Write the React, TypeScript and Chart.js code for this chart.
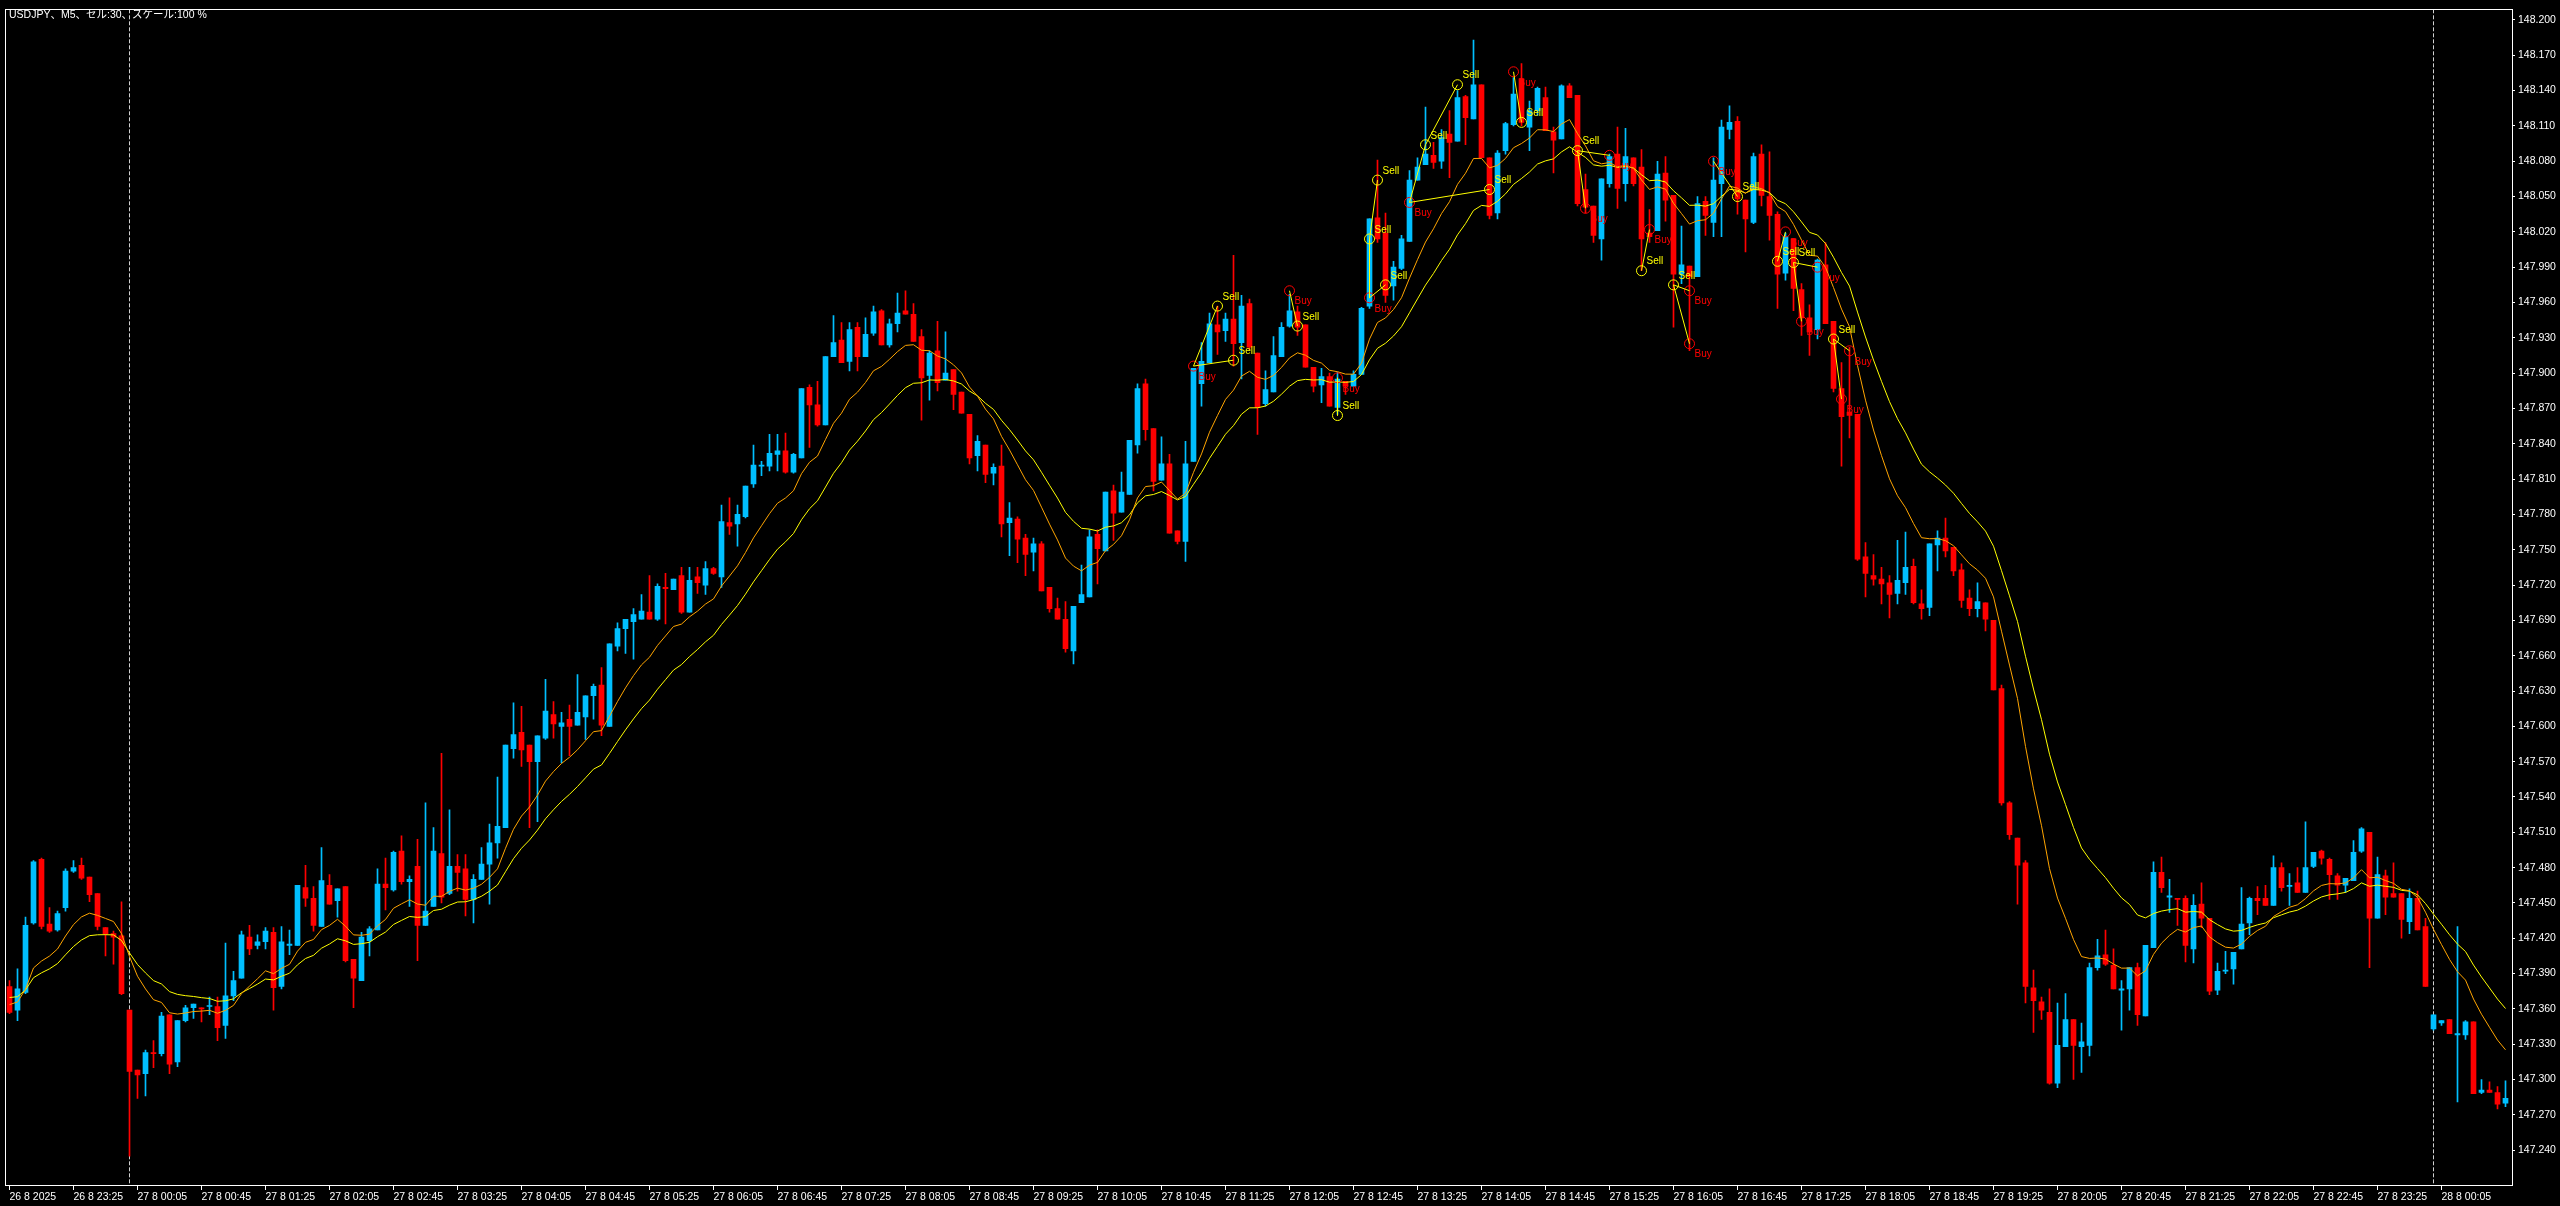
import { useEffect, useRef } from 'react';
import { Chart, registerables } from 'chart.js';

Chart.register(...registerables);

// ---- Data (USDJPY M5, one candle per 5 minutes, first candle 26 8 22:45) ----
const candleOpen: number[] = [
  147.379,147.359,147.374,147.433,147.487,147.432,147.427,147.446,147.477,147.482,
  147.472,147.458,147.429,147.424,147.422,147.359,147.308,147.305,147.323,147.322,
  147.355,147.315,147.350,147.361,147.361,147.362,147.362,147.346,147.371,147.386,
  147.421,147.414,147.417,147.425,147.379,147.414,147.414,147.463,147.454,147.430,
  147.465,147.452,147.464,147.402,147.384,147.418,147.427,147.466,147.461,147.494,
  147.468,147.481,147.431,147.447,147.492,147.458,147.481,147.479,147.453,147.470,
  147.483,147.501,147.514,147.581,147.595,147.584,147.570,147.590,147.610,147.600,
  147.606,147.601,147.608,147.626,147.635,147.600,147.668,147.683,147.689,147.691,
  147.697,147.691,147.718,147.716,147.728,147.697,147.727,147.720,147.734,147.727,
  147.773,147.772,147.778,147.806,147.821,147.821,147.831,147.834,147.816,147.828,
  147.888,147.873,147.856,147.914,147.928,147.910,147.939,147.914,147.934,147.953,
  147.924,147.942,147.953,147.950,147.931,147.898,147.919,147.894,147.903,147.884,
  147.865,147.830,147.839,147.815,147.821,147.773,147.776,147.760,147.748,147.755,
  147.718,147.700,147.691,147.664,147.705,147.710,147.763,147.749,147.800,147.782,
  147.797,147.839,147.891,147.853,147.809,147.823,147.766,147.757,147.825,147.891,
  147.909,147.941,147.936,147.946,147.926,147.959,147.917,147.874,147.884,147.914,
  147.940,147.952,147.941,147.905,147.890,147.897,147.871,147.893,147.889,147.899,
  147.957,148.032,148.019,147.974,147.989,148.012,148.064,148.077,148.085,148.080,
  148.103,148.097,148.135,148.116,148.145,148.083,148.036,148.089,148.111,148.150,
  148.109,148.123,148.134,148.105,148.099,148.144,148.136,148.056,148.042,148.014,
  148.061,148.086,148.061,148.083,148.075,148.019,148.021,148.070,148.051,147.984,
  147.991,147.982,148.046,148.028,148.061,148.107,148.114,148.047,148.028,148.086,
  148.050,148.035,147.985,148.014,147.971,147.947,147.937,147.992,147.944,147.887,
  147.867,147.865,147.744,147.728,147.725,147.722,147.713,147.722,147.736,147.704,
  147.701,147.754,147.760,147.752,147.733,147.709,147.700,147.705,147.690,147.632,
  147.535,147.505,147.484,147.378,147.366,147.357,147.297,147.328,147.351,147.328,
  147.329,147.395,147.406,147.397,147.376,147.377,147.395,147.354,147.412,147.476,
  147.455,147.454,147.454,147.411,147.449,147.437,147.376,147.392,147.394,147.411,
  147.433,147.454,147.454,147.448,147.480,147.464,147.467,147.459,147.481,147.494,
  147.487,147.473,147.465,147.469,147.494,147.510,147.437,147.473,147.458,147.458,
  147.434,147.454,147.430,147.343,147.348,147.351,147.338,147.338,147.349,147.289,
  147.291,147.289,147.280,
];

const candleHigh: number[] = [
  147.384,147.394,147.438,147.486,147.488,147.446,147.443,147.479,147.486,147.488,
  147.472,147.458,147.429,147.426,147.451,147.359,147.308,147.325,147.333,147.357,
  147.355,147.350,147.363,147.364,147.361,147.370,147.370,147.416,147.392,147.426,
  147.431,147.423,147.429,147.429,147.430,147.427,147.465,147.482,147.464,147.497,
  147.474,147.462,147.464,147.402,147.425,147.430,147.479,147.488,147.494,147.507,
  147.473,147.504,147.535,147.514,147.577,147.529,147.491,147.491,147.474,147.497,
  147.517,147.557,147.584,147.620,147.617,147.584,147.592,147.640,147.621,147.612,
  147.618,147.644,147.626,147.636,147.650,147.670,147.688,147.691,147.700,147.712,
  147.728,147.721,147.730,147.725,147.735,147.735,147.735,147.740,147.735,147.788,
  147.794,147.788,147.804,147.839,147.825,147.848,147.848,147.849,147.832,147.887,
  147.890,147.893,147.914,147.949,147.943,147.943,147.943,147.947,147.957,147.954,
  147.946,147.968,147.970,147.959,147.937,147.919,147.944,147.935,147.903,147.884,
  147.865,147.847,147.839,147.823,147.839,147.790,147.778,147.763,147.760,147.757,
  147.718,147.709,147.706,147.702,147.737,147.767,147.767,147.799,147.805,147.816,
  147.843,147.891,147.895,147.853,147.846,147.831,147.766,147.842,147.904,147.926,
  147.951,147.957,147.951,148.000,147.966,147.963,147.917,147.902,147.931,147.943,
  147.967,147.957,147.941,147.905,147.904,147.900,147.901,147.893,147.902,147.956,
  148.031,148.081,148.036,147.995,148.017,148.072,148.083,148.126,148.096,148.107,
  148.123,148.140,148.136,148.183,148.145,148.083,148.089,148.113,148.151,148.163,
  148.131,148.143,148.143,148.109,148.145,148.146,148.136,148.069,148.042,148.065,
  148.086,148.109,148.108,148.083,148.090,148.039,148.080,148.084,148.051,148.025,
  147.991,148.050,148.050,148.083,148.115,148.127,148.118,148.047,148.087,148.094,
  148.088,148.037,148.019,148.014,147.976,147.958,147.997,148.011,147.944,147.909,
  147.922,147.865,147.756,147.746,147.735,147.728,147.758,147.765,147.742,147.716,
  147.755,147.766,147.777,147.752,147.738,147.716,147.722,147.705,147.690,147.635,
  147.536,147.505,147.486,147.393,147.370,147.377,147.365,147.373,147.351,147.348,
  147.399,147.419,147.427,147.411,147.384,147.395,147.399,147.414,147.485,147.489,
  147.470,147.454,147.456,147.457,147.467,147.437,147.399,147.409,147.408,147.463,
  147.455,147.464,147.465,147.490,147.484,147.475,147.480,147.519,147.493,147.495,
  147.488,147.475,147.471,147.503,147.514,147.510,147.489,147.478,147.484,147.458,
  147.462,147.460,147.437,147.355,147.350,147.351,147.430,147.350,147.349,147.300,
  147.298,147.294,147.299,
];

const candleLow: number[] = [
  147.356,147.350,147.373,147.432,147.428,147.425,147.426,147.443,147.476,147.470,
  147.451,147.427,147.405,147.398,147.372,147.235,147.284,147.286,147.310,147.320,
  147.305,147.311,147.349,147.352,147.349,147.355,147.333,147.335,147.367,147.386,
  147.406,147.411,147.411,147.359,147.377,147.406,147.414,147.447,147.426,147.430,
  147.449,147.438,147.400,147.361,147.384,147.405,147.427,147.444,147.460,147.466,
  147.447,147.401,147.431,147.447,147.450,147.457,147.460,147.439,147.433,147.470,
  147.449,147.488,147.514,147.573,147.566,147.514,147.519,147.589,147.590,147.569,
  147.575,147.601,147.589,147.606,147.592,147.600,147.664,147.662,147.657,147.691,
  147.691,147.690,147.687,147.716,147.696,147.697,147.713,147.712,147.729,147.718,
  147.763,147.753,147.777,147.803,147.813,147.817,147.817,147.815,147.815,147.828,
  147.837,147.855,147.856,147.914,147.909,147.902,147.902,147.914,147.932,147.924,
  147.922,147.935,147.950,147.927,147.860,147.877,147.885,147.894,147.869,147.866,
  147.823,147.817,147.807,147.805,147.761,147.745,147.739,147.728,147.732,147.715,
  147.697,147.691,147.663,147.653,147.705,147.710,147.721,147.749,147.758,147.782,
  147.797,147.832,147.843,147.800,147.809,147.764,147.755,147.740,147.825,147.872,
  147.909,147.916,147.927,147.906,147.895,147.920,147.848,147.872,147.884,147.914,
  147.939,147.932,147.905,147.884,147.875,147.872,147.865,147.882,147.889,147.899,
  147.955,148.011,147.960,147.962,147.988,148.012,148.064,148.077,148.074,148.074,
  148.066,148.097,148.094,148.116,148.083,148.031,148.031,148.086,148.110,148.110,
  148.089,148.119,148.106,148.070,148.099,148.134,148.042,148.036,148.011,147.996,
  148.058,148.040,148.046,148.059,147.987,148.011,148.021,148.029,147.939,147.976,
  147.919,147.982,148.017,148.016,148.016,148.099,148.035,148.003,148.027,148.042,
  148.013,147.955,147.979,147.953,147.932,147.915,147.929,147.942,147.884,147.821,
  147.845,147.741,147.710,147.720,147.704,147.692,147.704,147.712,147.704,147.691,
  147.694,147.732,147.744,147.728,147.701,147.694,147.693,147.681,147.631,147.533,
  147.504,147.449,147.365,147.340,147.351,147.296,147.293,147.328,147.300,147.306,
  147.320,147.393,147.397,147.377,147.342,147.359,147.346,147.354,147.412,147.459,
  147.442,147.431,147.400,147.399,147.429,147.372,147.372,147.390,147.381,147.411,
  147.423,147.440,147.448,147.448,147.460,147.448,147.459,147.459,147.480,147.483,
  147.453,147.453,147.459,147.469,147.493,147.395,147.437,147.440,147.455,147.420,
  147.424,147.427,147.379,147.342,147.346,147.339,147.281,147.334,147.288,147.288,
  147.289,147.275,147.277,
];

const candleClose: number[] = [
  147.357,147.377,147.431,147.485,147.430,147.426,147.441,147.477,147.480,147.471,
  147.457,147.430,147.424,147.421,147.373,147.307,147.304,147.323,147.322,147.354,
  147.313,147.350,147.361,147.364,147.360,147.362,147.344,147.371,147.384,147.423,
  147.411,147.417,147.426,147.378,147.417,147.415,147.465,147.454,147.431,147.469,
  147.449,147.462,147.401,147.386,147.421,147.428,147.466,147.463,147.493,147.468,
  147.470,147.431,147.443,147.494,147.455,147.481,147.476,147.453,147.470,147.483,
  147.501,147.515,147.584,147.593,147.580,147.570,147.592,147.613,147.602,147.603,
  147.600,147.612,147.626,147.634,147.601,147.670,147.683,147.691,147.695,147.698,
  147.691,147.719,147.717,147.725,147.697,147.724,147.722,147.734,147.730,147.774,
  147.770,147.780,147.804,147.822,147.822,147.832,147.834,147.816,147.831,147.887,
  147.873,147.856,147.914,147.926,147.909,147.937,147.914,147.933,147.952,147.924,
  147.942,147.951,147.950,147.927,147.896,147.917,147.892,147.900,147.882,147.866,
  147.828,147.842,147.814,147.820,147.772,147.777,147.759,147.746,147.755,147.715,
  147.700,147.691,147.666,147.702,147.712,147.761,147.751,147.799,147.781,147.799,
  147.843,147.887,147.852,147.808,147.823,147.764,147.757,147.823,147.904,147.910,
  147.942,147.935,147.946,147.925,147.957,147.922,147.871,147.886,147.915,147.939,
  147.953,147.939,147.905,147.889,147.897,147.872,147.895,147.889,147.899,147.955,
  148.031,148.014,147.966,147.990,148.014,148.064,148.075,148.086,148.079,148.100,
  148.096,148.134,148.117,148.145,148.083,148.034,148.087,148.112,148.137,148.113,
  148.123,148.142,148.106,148.098,148.144,148.134,148.044,148.041,148.017,148.065,
  148.084,148.057,148.084,148.061,148.014,148.016,148.069,148.047,147.984,147.992,
  147.982,148.044,148.034,148.064,148.109,148.113,148.048,148.031,148.084,148.051,
  148.034,147.984,148.016,147.972,147.947,147.935,147.996,147.942,147.887,147.863,
  147.864,147.742,147.730,147.725,147.721,147.712,147.724,147.735,147.705,147.700,
  147.755,147.760,147.749,147.732,147.707,147.700,147.706,147.691,147.631,147.535,
  147.508,147.482,147.379,147.367,147.359,147.297,147.329,147.351,147.329,147.332,
  147.395,147.405,147.398,147.377,147.377,147.395,147.355,147.414,147.476,147.463,
  147.456,147.453,147.414,147.448,147.437,147.375,147.392,147.393,147.408,147.432,
  147.454,147.452,147.448,147.480,147.463,147.465,147.459,147.480,147.493,147.488,
  147.474,147.465,147.471,147.493,147.513,147.437,147.474,147.455,147.455,147.436,
  147.454,147.427,147.379,147.355,147.350,147.339,147.339,147.349,147.288,147.291,
  147.289,147.279,147.284,
];

// Moving-average indicator settings (orange = fast EMA, yellow = slow EMA)
const fastPeriod = 11;
const slowPeriod = 20;
const fastSeed = 147.365; // indicator value just before the first visible bar
const slowSeed = 147.371;

// Time-axis labels (one every 8 bars = 40 minutes)
const timeLabels: string[] = [
  '26 8 2025', '26 8 23:25', '27 8 00:05', '27 8 00:45', '27 8 01:25', '27 8 02:05',
  '27 8 02:45', '27 8 03:25', '27 8 04:05', '27 8 04:45', '27 8 05:25', '27 8 06:05',
  '27 8 06:45', '27 8 07:25', '27 8 08:05', '27 8 08:45', '27 8 09:25', '27 8 10:05',
  '27 8 10:45', '27 8 11:25', '27 8 12:05', '27 8 12:45', '27 8 13:25', '27 8 14:05',
  '27 8 14:45', '27 8 15:25', '27 8 16:05', '27 8 16:45', '27 8 17:25', '27 8 18:05',
  '27 8 18:45', '27 8 19:25', '27 8 20:05', '27 8 20:45', '27 8 21:25', '27 8 22:05',
  '27 8 22:45', '27 8 23:25', '28 8 00:05',
];
const barsPerLabel = 8;

// Price-axis tick labels
const priceTicks: number[] = [
  148.2, 148.17, 148.14, 148.11, 148.08, 148.05, 148.02, 147.99, 147.96, 147.93, 147.9,
  147.87, 147.84, 147.81, 147.78, 147.75, 147.72, 147.69, 147.66, 147.63, 147.6, 147.57,
  147.54, 147.51, 147.48, 147.45, 147.42, 147.39, 147.36, 147.33, 147.3, 147.27, 147.24,
];

// Day separators (bar index of 00:00)
const daySeparators: number[] = [15, 303];

// Trade signals
const signalBar: number[] = [
  148, 151, 153, 160, 161, 166, 166, 170, 170, 171, 172, 175, 177, 181, 185, 188, 189,
  196, 197, 200, 204, 205, 208, 210, 210, 213, 216, 221, 222, 223, 224, 226, 228, 229, 230,
];
const signalPrice: number[] = [
  147.906, 147.957, 147.911, 147.970, 147.940, 147.896, 147.864, 148.014, 147.964, 148.064,
  147.975, 148.045, 148.094, 148.145, 148.056, 148.156, 148.113, 148.089, 148.040, 148.085,
  147.987, 148.022, 147.975, 147.970, 147.925, 148.080, 148.050, 147.995, 148.020, 147.994,
  147.944, 147.990, 147.929, 147.878, 147.919,
];
const signalType: string[] = [
  'Buy', 'Sell', 'Sell', 'Buy', 'Sell', 'Buy', 'Sell', 'Sell', 'Buy', 'Sell',
  'Sell', 'Buy', 'Sell', 'Sell', 'Sell', 'Buy', 'Sell', 'Sell', 'Buy', 'Buy',
  'Sell', 'Buy', 'Sell', 'Buy', 'Buy', 'Buy', 'Sell', 'Sell', 'Buy', 'Sell',
  'Buy', 'Buy', 'Sell', 'Buy', 'Buy',
];
// Connecting lines between signals (signal ids)
const linkFrom: number[] = [0, 0, 3, 5, 7, 9, 8, 11, 12, 11, 15, 17, 17, 20, 22, 22, 25, 27, 29, 29, 32, 32];
const linkTo: number[] = [1, 2, 4, 6, 8, 7, 10, 12, 13, 14, 16, 18, 19, 21, 23, 24, 26, 28, 30, 31, 33, 34];

const titleText = 'USDJPY、M5、セル:30、スケール:100 %';

// ---- Styles ----
const BULL = '#00BFFF';
const BEAR = '#FF0000';
const FAST_COLOR = '#FFA500';
const SLOW_COLOR = '#FFFF00';
const SELL_COLOR = '#FFFF00';
const BUY_COLOR = '#FF0000';
const AXIS_COLOR = '#FFFFFF';
const FONT_FAMILY = "'Liberation Sans', Arial, 'Noto Sans CJK JP', sans-serif";

function ema(values: number[], period: number, seed: number): number[] {
  const k = 2 / (period + 1);
  let prev = seed;
  return values.map((v) => (prev = prev + k * (v - prev)));
}

const overlayPlugin = {
  id: 'mtOverlay',
  beforeDatasetsDraw(chart: any) {
    const { ctx, chartArea: a, scales } = chart;
    ctx.save();
    ctx.strokeStyle = '#D0D0D0';
    ctx.lineWidth = 1;
    ctx.setLineDash([4, 2]);
    for (const idx of daySeparators) {
      const px = Math.floor(scales.x.getPixelForValue(idx)) + 0.5;
      ctx.beginPath();
      ctx.moveTo(px, a.top);
      ctx.lineTo(px, a.bottom);
      ctx.stroke();
    }
    ctx.restore();
  },
  afterDatasetsDraw(chart: any) {
    const { ctx, chartArea: a, scales } = chart;
    ctx.save();
    // signal labels
    ctx.font = `10px ${FONT_FAMILY}`;
    ctx.textAlign = 'left';
    ctx.textBaseline = 'middle';
    signalBar.forEach((b, k) => {
      const px = scales.x.getPixelForValue(b);
      const py = scales.y.getPixelForValue(signalPrice[k]);
      const isSell = signalType[k] === 'Sell';
      ctx.fillStyle = isSell ? SELL_COLOR : BUY_COLOR;
      ctx.fillText(signalType[k], px + 5, isSell ? py - 9 : py + 11);
    });
    // frame
    ctx.strokeStyle = AXIS_COLOR;
    ctx.lineWidth = 1;
    ctx.setLineDash([]);
    ctx.strokeRect(Math.floor(a.left) - 0.5, Math.floor(a.top) + 0.5, Math.round(a.right - a.left) + 1, Math.round(a.bottom - a.top) - 1);
    // title
    ctx.font = `10.5px ${FONT_FAMILY}`;
    ctx.fillStyle = '#FFFFFF';
    ctx.textBaseline = 'middle';
    ctx.fillText(titleText, 9, 15.5);
    ctx.restore();
  },
};

export default function App() {
  const canvasRef = useRef<HTMLCanvasElement>(null);

  useEffect(() => {
    const canvas = canvasRef.current;
    if (!canvas) return;
    const colors = candleClose.map((c, i) => (c >= candleOpen[i] ? BULL : BEAR));
    const fast = ema(candleClose, fastPeriod, fastSeed);
    const slow = ema(candleClose, slowPeriod, slowSeed);

    const linkDatasets = linkFrom.map((f, k) => ({
      type: 'line' as const,
      data: [
        { x: signalBar[f], y: signalPrice[f] },
        { x: signalBar[linkTo[k]], y: signalPrice[linkTo[k]] },
      ],
      borderColor: SELL_COLOR,
      borderWidth: 1,
      pointRadius: 0,
      fill: false,
      order: 0,
    }));

    const chart = new Chart(canvas, {
      type: 'bar',
      data: {
        datasets: [
          {
            type: 'bar',
            data: candleLow.map((l, i) => ({ x: i, y: [l, candleHigh[i]] })) as any,
            backgroundColor: colors,
            barThickness: 1,
            grouped: false,
            minBarLength: 1,
            borderWidth: 0,
            order: 4,
          },
          {
            type: 'bar',
            data: candleOpen.map((o, i) => ({ x: i, y: [o, candleClose[i]] })) as any,
            backgroundColor: colors,
            barThickness: 5,
            grouped: false,
            minBarLength: 1,
            borderWidth: 0,
            order: 3,
          },
          {
            type: 'line',
            data: slow.map((v, i) => ({ x: i, y: v })),
            borderColor: SLOW_COLOR,
            borderWidth: 1,
            pointRadius: 0,
            tension: 0,
            fill: false,
            order: 2,
          },
          {
            type: 'line',
            data: fast.map((v, i) => ({ x: i, y: v })),
            borderColor: FAST_COLOR,
            borderWidth: 1,
            pointRadius: 0,
            tension: 0,
            fill: false,
            order: 1,
          },
          ...linkDatasets,
          {
            type: 'line',
            data: signalBar.map((b, k) => ({ x: b, y: signalPrice[k] })),
            showLine: false,
            pointRadius: 5,
            pointStyle: 'circle',
            pointBorderWidth: 1,
            pointBorderColor: signalType.map((t) => (t === 'Sell' ? SELL_COLOR : BUY_COLOR)),
            pointBackgroundColor: 'rgba(0,0,0,0)',
            order: 0,
          },
        ] as any,
      },
      options: {
        responsive: false,
        devicePixelRatio: 1,
        animation: false,
        events: [],
        layout: { padding: { left: 6, top: 5, right: 0, bottom: 0 } },
        plugins: { legend: { display: false }, tooltip: { enabled: false } },
        scales: {
          x: {
            type: 'linear',
            position: 'bottom',
            min: -0.4375,
            max: 312.8125,
            offset: false,
            afterFit: (s: any) => { s.height = 20; },
            afterBuildTicks: (s: any) => {
              s.ticks = timeLabels.map((_, k) => ({ value: k * barsPerLabel }));
            },
            grid: { display: true, drawOnChartArea: false, drawTicks: true, tickLength: 4, color: AXIS_COLOR, offset: false },
            border: { display: false },
            ticks: {
              autoSkip: false,
              maxRotation: 0,
              minRotation: 0,
              align: 'start',
              padding: 1,
              color: AXIS_COLOR,
              font: { family: "'Liberation Sans Narrow', 'Liberation Sans', Arial, sans-serif", size: 10.5 },
              callback: (_v: any, idx: number) => timeLabels[idx],
            },
          },
          y: {
            type: 'linear',
            position: 'right',
            min: 147.20957,
            max: 148.20906,
            afterFit: (s: any) => { s.width = 48; },
            afterBuildTicks: (s: any) => {
              s.ticks = priceTicks.map((v) => ({ value: v }));
            },
            grid: { display: true, drawOnChartArea: false, drawTicks: true, tickLength: 3, color: AXIS_COLOR },
            border: { display: false },
            ticks: {
              padding: 3,
              color: AXIS_COLOR,
              font: { family: FONT_FAMILY, size: 10.5 },
              callback: (v: any) => Number(v).toFixed(3),
            },
          },
        },
      } as any,
      plugins: [overlayPlugin],
    });

    return () => chart.destroy();
  }, []);

  return (
    <div style={{ position: 'fixed', left: 0, top: 0, width: 2560, height: 1206, background: '#000' }}>
      <canvas ref={canvasRef} width={2560} height={1206} style={{ display: 'block', width: 2560, height: 1206 }} />
    </div>
  );
}
